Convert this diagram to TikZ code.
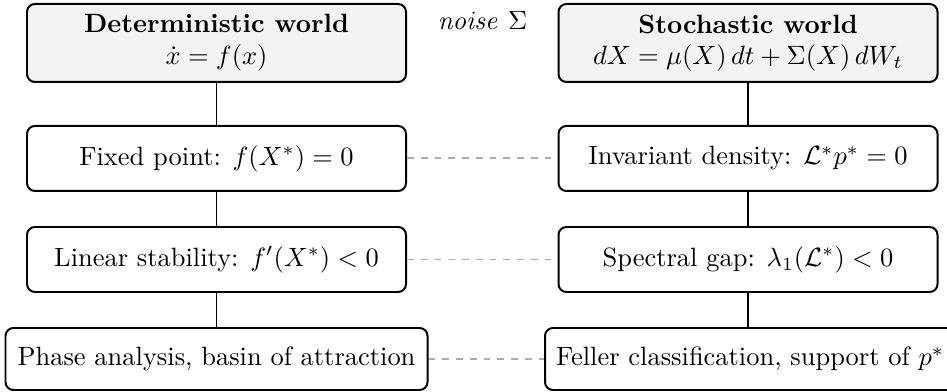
\documentclass[tikz,border=0pt]{standalone}
\usepackage{amsmath,amssymb}
\def\pxu{0.378pt}
\begin{document}
\begin{tikzpicture}[x=\pxu,y=-\pxu,
  box/.style={draw=black,line width=0.75pt,rounded corners=3pt,align=center,inner sep=2pt,
    minimum width={379*\pxu},minimum height={65*\pxu}},
  headbox/.style={box,fill=gray!10,minimum height={78*\pxu}},
  lowbox/.style={box,minimum height={62*\pxu}},
  link/.style={line width=0.75pt,black},
  analog/.style={line width=0.75pt,gray!65,dash pattern=on 2.6pt off 2.6pt}]
\useasboundingbox (0,0) rectangle (947,392);
\clip (0,0) rectangle (947,392);
\node[headbox] (dw) at (216.5,43) {\textbf{Deterministic world}\\$\dot{x}=f(x)$};
\node[headbox] (sw) at (748,43) {\textbf{Stochastic world}\\$dX=\mu(X)\,dt+\Sigma(X)\,dW_t$};
\node (noise) at (482.5,20) {$\mathit{noise}\ \Sigma$};
\node[box] (fp) at (216.5,158.5) {Fixed point: $f(X^*)=0$};
\node[box] (id) at (748,158.5) {Invariant density: $\mathcal{L}^*p^*=0$};
\node[box] (ls) at (216.5,259.5) {Linear stability: $f'(X^*)<0$};
\node[box] (sg) at (748,259.5) {Spectral gap: $\lambda_1(\mathcal{L}^*)<0$};
\node[lowbox,minimum width={422*\pxu}] (pa) at (216.5,359) {Phase analysis, basin of attraction};
\node[lowbox,minimum width={410*\pxu}] (fc) at (750,359) {Feller classification, support of $p^*$};
\draw[link] (dw.south) -- (fp.north);
\draw[link] (fp.south) -- (ls.north);
\draw[link] (ls.south) -- (pa.north);
\draw[link] (sw.south) -- (id.north);
\draw[link] (id.south) -- (sg.north);
\draw[link] (sg.south) -- (sg.south |- fc.north);
\draw[analog] (fp.east) -- (id.west);
\draw[analog] (ls.east) -- (sg.west);
\draw[analog] (pa.east) -- (fc.west);
\end{tikzpicture}
\end{document}
